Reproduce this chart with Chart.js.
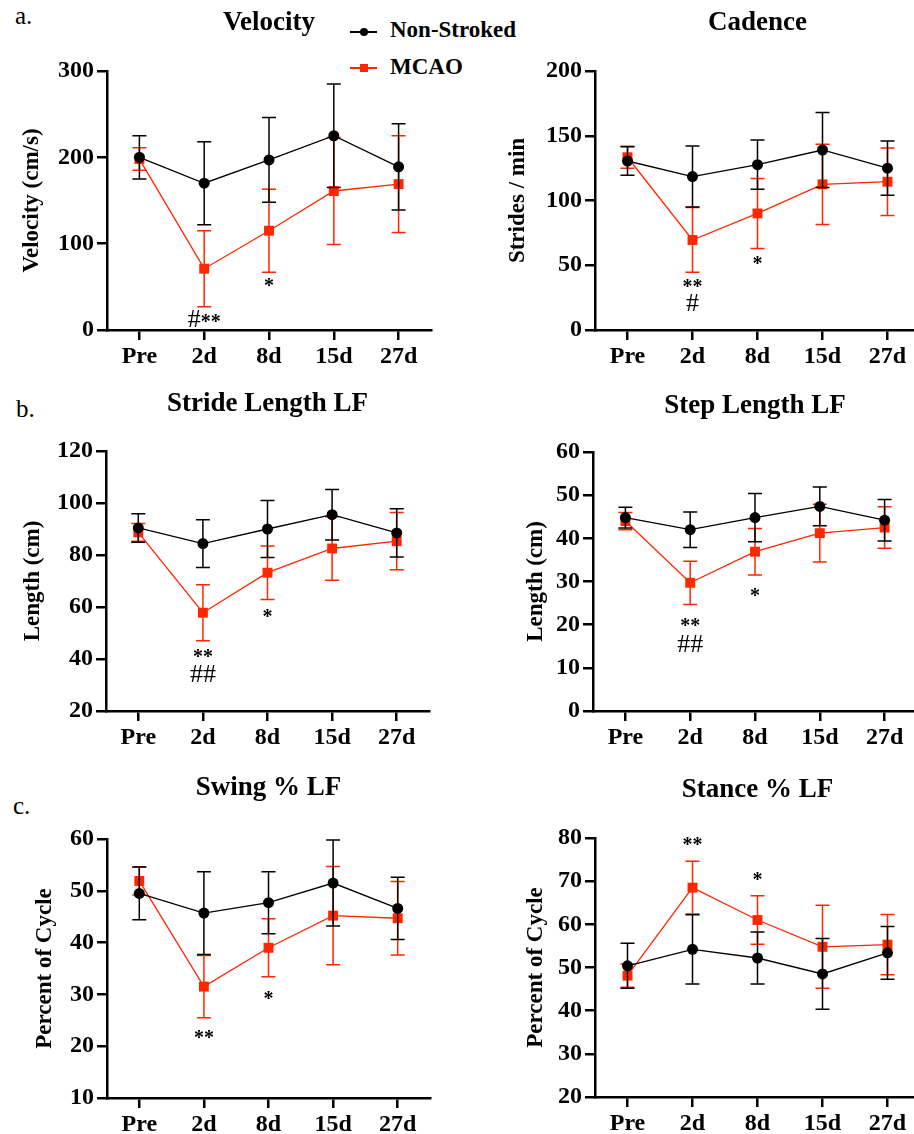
<!DOCTYPE html>
<html>
<head>
<meta charset="utf-8">
<script src="https://cdn.jsdelivr.net/npm/chart.js@4.4.1/dist/chart.umd.min.js"></script>
<style>
  html, body { margin: 0; padding: 0; background: #fff; overflow: hidden; }
  #wrap { position: relative; width: 914px; height: 1134px; overflow: hidden;
          font-family: "Liberation Serif", "Times New Roman", serif; color: #000; }
  #wrap canvas { position: absolute; }
  .letter { position: absolute; font-size: 25px; line-height: 25px; }
  .leg { position: absolute; left: 390px; font-size: 23px; line-height: 24px; font-weight: bold; }
  .legline { position: absolute; left: 350px; width: 27px; height: 1.5px; }
  .legdot { position: absolute; left: 360px; width: 8px; height: 8px; }
</style>
</head>
<body>
<div id="wrap">
  <div class="letter" style="left:15px;top:3px">a.</div>
  <div class="letter" style="left:16px;top:396px">b.</div>
  <div class="letter" style="left:13px;top:793px">c.</div>

  <div class="legline" style="top:31px;background:#000"></div>
  <div class="legdot" style="top:27.5px;background:#000;border-radius:50%"></div>
  <div class="leg" style="top:18px">Non-Stroked</div>
  <div class="legline" style="top:67px;background:#ff2600"></div>
  <div class="legdot" style="top:63.5px;background:#ff2600"></div>
  <div class="leg" style="top:55px">MCAO</div>
</div>
<script>
// time points
var categories = ['Pre', '2d', '8d', '15d', '27d'];

// velocity (cm/s)
var velocityNS = [200, 170, 197, 225, 189];
var velocityNSErr = [25, 48, 49, 60, 50];
var velocityMCAO = [198, 71, 115, 161, 169];
var velocityMCAOErr = [13, 44, 48, 62, 56];

// cadence (strides / min)
var cadenceNS = [130.5, 118.5, 127.7, 139, 125];
var cadenceNSErr = [11, 23.5, 19, 29, 21];
var cadenceMCAO = [133.4, 69.5, 90, 112.5, 114.5];
var cadenceMCAOErr = [8.5, 25, 27, 31, 26];

// stride length LF (cm)
var strideNS = [90.4, 84.4, 90, 95.5, 88.5];
var strideNSErr = [5.5, 9.2, 11, 9.7, 9.3];
var strideMCAO = [88.7, 57.8, 73.2, 82.5, 85.3];
var strideMCAOErr = [3.4, 10.8, 10.3, 12.2, 11];

// step length LF (cm)
var stepNS = [44.8, 42, 44.8, 47.4, 44.2];
var stepNSErr = [2.4, 4.1, 5.6, 4.5, 4.8];
var stepMCAO = [44, 29.7, 36.9, 41.2, 42.5];
var stepMCAOErr = [2, 5, 5.4, 6.7, 4.8];

// swing % LF
var swingNS = [49.5, 45.7, 47.7, 51.5, 46.6];
var swingNSErr = [5.1, 8, 6, 8.3, 6];
var swingMCAO = [51.9, 31.5, 39, 45.2, 44.7];
var swingMCAOErr = [2.7, 6, 5.6, 9.5, 7.1];

// stance % LF
var stanceNS = [50.4, 54.2, 52.2, 48.5, 53.4];
var stanceNSErr = [5.2, 8, 6, 8.2, 6.1];
var stanceMCAO = [48.1, 68.5, 61, 54.8, 55.3];
var stanceMCAOErr = [2.7, 6.1, 5.6, 9.6, 7];

// significance marks (time point, y value on the axis, text)
var velocitySig = [{at: '2d', value: 14, text: '#**'}, {at: '8d', value: 56, text: '*'}];
var cadenceSig = [{at: '2d', value: 36, text: '**'}, {at: '2d', value: 21.5, text: '#'}, {at: '8d', value: 54, text: '*'}];
var strideSig = [{at: '2d', value: 42.3, text: '**'}, {at: '2d', value: 34.6, text: '##'}, {at: '8d', value: 57.7, text: '*'}];
var stepSig = [{at: '2d', value: 20.7, text: '**'}, {at: '2d', value: 15.7, text: '##'}, {at: '8d', value: 27.6, text: '*'}];
var swingSig = [{at: '2d', value: 22.3, text: '**'}, {at: '8d', value: 29.9, text: '*'}];
var stanceSig = [{at: '2d', value: 79.2, text: '**'}, {at: '8d', value: 71.2, text: '*'}];

var RED = '#ff2600';
var FONT = '"Liberation Serif", "Times New Roman", serif';
Chart.defaults.font.family = FONT;
Chart.defaults.color = '#000';

// error bars under each dataset
var errorBars = {
  id: 'errorBars',
  beforeDatasetDraw: function(chart, args) {
    var ds = chart.data.datasets[args.index];
    var ys = chart.scales.y;
    var ctx = chart.ctx;
    ctx.save();
    ctx.strokeStyle = ds.borderColor;
    ctx.lineWidth = 1.5;
    args.meta.data.forEach(function(pt, i) {
      var v = ds.data[i], e = ds.errors[i];
      var top = ys.getPixelForValue(v + e), bot = ys.getPixelForValue(v - e);
      ctx.beginPath();
      ctx.moveTo(pt.x, top); ctx.lineTo(pt.x, bot);
      ctx.moveTo(pt.x - 7, top); ctx.lineTo(pt.x + 7, top);
      ctx.moveTo(pt.x - 7, bot); ctx.lineTo(pt.x + 7, bot);
      ctx.stroke();
    });
    ctx.restore();
  }
};

function drawSig(ctx, x, y, text) {
  var runs = text.match(/#+|\*+/g);
  var font = {'#': 'normal 26px ' + FONT, '*': 'bold 20px ' + FONT};
  var rise = {'#': 0.34 * 26, '*': 0.5 * 20};
  var total = 0, widths = [];
  runs.forEach(function(r) {
    ctx.font = font[r[0]];
    var w = ctx.measureText(r).width;
    widths.push(w); total += w;
  });
  var cx = x - total / 2;
  ctx.fillStyle = '#000';
  ctx.textAlign = 'left';
  ctx.textBaseline = 'alphabetic';
  runs.forEach(function(r, i) {
    ctx.font = font[r[0]];
    ctx.fillText(r, cx, y + rise[r[0]]);
    cx += widths[i];
  });
}

function sigPlugin(marks) {
  return {
    id: 'sig',
    afterDatasetsDraw: function(chart) {
      var xs = chart.scales.x, ys = chart.scales.y, ctx = chart.ctx;
      ctx.save();
      marks.forEach(function(m) {
        drawSig(ctx, xs.getPixelForValue(categories.indexOf(m.at)), ys.getPixelForValue(m.value), m.text);
      });
      ctx.restore();
    }
  };
}

// box = canvas [left, top, width, height]; area = chart area [left, top, right, bottom]
var panels = [
  {title: 'Velocity', yTitle: 'Velocity (cm/s)', ns: velocityNS, nsErr: velocityNSErr, mc: velocityMCAO, mcErr: velocityMCAOErr,
   min: 0, max: 300, step: 100, sig: velocitySig, box: [0, 0, 457, 380], area: [107, 71, 431, 330], titleY: 23, yTitleX: 32},
  {title: 'Cadence', yTitle: 'Strides / min', ns: cadenceNS, nsErr: cadenceNSErr, mc: cadenceMCAO, mcErr: cadenceMCAOErr,
   min: 0, max: 200, step: 50, sig: cadenceSig, box: [457, 0, 470, 380], area: [595, 71, 920, 330], titleY: 23, yTitleX: 518},
  {title: 'Stride Length LF', yTitle: 'Length (cm)', ns: strideNS, nsErr: strideNSErr, mc: strideMCAO, mcErr: strideMCAOErr,
   min: 20, max: 120, step: 20, sig: strideSig, box: [0, 380, 457, 370], area: [106, 451, 429, 711], titleY: 404, yTitleX: 33},
  {title: 'Step Length LF', yTitle: 'Length (cm)', ns: stepNS, nsErr: stepNSErr, mc: stepMCAO, mcErr: stepMCAOErr,
   min: 0, max: 60, step: 10, sig: stepSig, box: [457, 380, 470, 370], area: [593, 452, 917, 711], titleY: 406, yTitleX: 536},
  {title: 'Swing % LF', yTitle: 'Percent of Cycle', ns: swingNS, nsErr: swingNSErr, mc: swingMCAO, mcErr: swingMCAOErr,
   min: 10, max: 60, step: 10, sig: swingSig, box: [0, 750, 457, 384], area: [107, 839, 430, 1098], titleY: 788, yTitleX: 45},
  {title: 'Stance % LF', yTitle: 'Percent of Cycle', ns: stanceNS, nsErr: stanceNSErr, mc: stanceMCAO, mcErr: stanceMCAOErr,
   min: 20, max: 80, step: 10, sig: stanceSig, box: [457, 750, 470, 384], area: [595, 838, 920, 1097], titleY: 790, yTitleX: 536}
];

function makeChart(p) {
  var bx = p.box, a = p.area;
  var cv = document.createElement('canvas');
  cv.width = bx[2]; cv.height = bx[3];
  cv.style.left = bx[0] + 'px'; cv.style.top = bx[1] + 'px';
  document.getElementById('wrap').appendChild(cv);

  var tSize = 27, tLH = tSize * 1.2;
  var tPadTop = p.titleY - bx[1] - tLH / 2;
  var tPadBot = a[1] - bx[1] - tPadTop - tLH;
  var ySize = 23, yLH = ySize * 1.2;
  var yTitlePad = p.yTitleX - bx[0] - yLH / 2;
  var yW = a[0] - bx[0];
  var xH = bx[1] + bx[3] - a[3];
  var padR = bx[0] + bx[2] - a[2];

  var grid = {display: true, drawOnChartArea: false, offset: false, tickLength: 10,
              color: '#000', lineWidth: 2.5, tickWidth: 2.5};
  var border = {display: true, color: '#000', width: 2.5};

  new Chart(cv, {
    type: 'line',
    data: {
      labels: categories,
      datasets: [
        {label: 'Non-Stroked', data: p.ns, errors: p.nsErr, borderColor: '#000', backgroundColor: '#000',
         borderWidth: 1.3, pointStyle: 'circle', pointRadius: 5.5, pointBorderWidth: 0},
        {label: 'MCAO', data: p.mc, errors: p.mcErr, borderColor: RED, backgroundColor: RED,
         borderWidth: 1.3, pointStyle: 'rect', pointRadius: 7, pointBorderWidth: 0}
      ]
    },
    options: {
      responsive: false,
      animation: false,
      layout: {padding: {left: 0, top: 0, right: padR, bottom: 0}},
      plugins: {
        legend: {display: false},
        tooltip: {enabled: false},
        title: {display: true, text: p.title, fullSize: false, color: '#000',
                font: {size: tSize, weight: 'bold', lineHeight: 1.2},
                padding: {top: tPadTop, bottom: tPadBot}}
      },
      scales: {
        x: {
          type: 'category', offset: true, grid: grid, border: border,
          ticks: {font: {size: 24, weight: 'bold'}, color: '#000', padding: 2, maxRotation: 0, autoSkip: false},
          afterFit: function(s) { s.height = xH; }
        },
        y: {
          min: p.min, max: p.max, grid: grid, border: border,
          ticks: {stepSize: p.step, font: {size: 24, weight: 'bold'}, color: '#000', padding: 3},
          title: {display: true, text: p.yTitle, color: '#000', font: {size: ySize, weight: 'bold', lineHeight: 1.2},
                  padding: {top: yTitlePad, bottom: 0}},
          afterFit: function(s) { s.width = yW; }
        }
      }
    },
    plugins: [errorBars, sigPlugin(p.sig)]
  });
}

panels.forEach(makeChart);
</script>
</body>
</html>
